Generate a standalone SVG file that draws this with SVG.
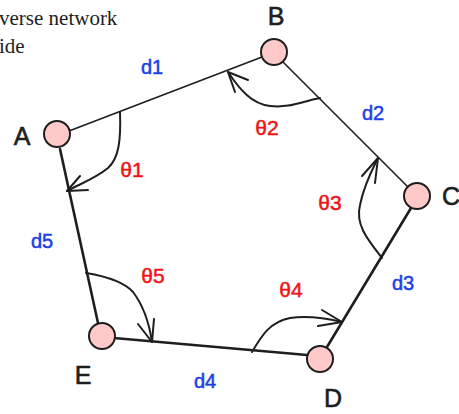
<svg xmlns="http://www.w3.org/2000/svg" width="459" height="414" viewBox="0 0 459 414">
<style>
.node{fill:#ffc9c9;stroke:#1e1e1e;stroke-width:2}
.edge{fill:none;stroke:#1e1e1e;stroke-linecap:round;stroke-linejoin:round}
.thin{stroke-width:1.6}
.thick{stroke-width:2.6}
.arc{fill:none;stroke:#1e1e1e;stroke-width:2;stroke-linecap:round;stroke-linejoin:round}
.lbl{font-family:"Liberation Sans","DejaVu Sans",sans-serif;font-size:25px;fill:#1e1e1e;stroke:#1e1e1e;stroke-width:0.6;text-anchor:middle}
.d{font-family:"Liberation Sans","DejaVu Sans",sans-serif;font-size:20px;fill:#1c3ee8;stroke:#1c3ee8;stroke-width:0.5;text-anchor:middle}
.t{font-family:"Liberation Sans","DejaVu Sans",sans-serif;font-size:21px;fill:#f01414;stroke:#f01414;stroke-width:0.5;text-anchor:middle}
.note{font-family:"Liberation Serif","DejaVu Serif",serif;font-size:21px;fill:#1e1e1e}
</style>
<text class="note" x="-1" y="25">verse network</text>
<text class="note" x="-1" y="53">ide</text>
<g id="connectors">
<path class="edge thin" d="M69 131 L262 57"/>
<path class="edge thin" d="M283 62 L408 187"/>
<path class="edge thick" d="M411 208 L327 347"/>
<path class="edge thick" d="M307 355 L114 338"/>
<path class="edge thick" d="M98 323 L60 149"/>
<path class="arc" d="M120 112 C121 140 119 158 108 168 C96 178 80 184 67 191"/>
<path class="arc" d="M80 176 L67 191 L88 190"/>
<path class="arc" d="M320 98 C300 102 290 108 270 106 C252 104 240 90 228 72"/>
<path class="arc" d="M248 80 L228 72 L235 92"/>
<path class="arc" d="M382 258 C368 240 355 225 360 205 C364 185 372 170 378 158"/>
<path class="arc" d="M362 176 L378 158 L375 183"/>
<path class="arc" d="M252 352 C262 335 270 322 290 318 C305 316 325 318 342 322"/>
<path class="arc" d="M322 310 L342 322 L318 326"/>
<path class="arc" d="M86 273 C110 277 125 283 133 292 C143 305 149 322 152 342"/>
<path class="arc" d="M138 324 L152 342 L154 319"/>
</g>
<g id="node-A"><circle class="node" cx="57" cy="134" r="13"/><text class="lbl" x="22" y="145">A</text></g>
<g id="node-B"><circle class="node" cx="274" cy="52" r="13"/><text class="lbl" x="276" y="25">B</text></g>
<g id="node-C"><circle class="node" cx="417" cy="196" r="13"/><text class="lbl" x="451" y="205">C</text></g>
<g id="node-D"><circle class="node" cx="320" cy="359" r="13"/><text class="lbl" x="333" y="407">D</text></g>
<g id="node-E"><circle class="node" cx="102" cy="336" r="13"/><text class="lbl" x="83" y="384">E</text></g>
<g id="labels">
<text class="d" x="152" y="74">d1</text>
<text class="d" x="373" y="120">d2</text>
<text class="d" x="403" y="290">d3</text>
<text class="d" x="205" y="388">d4</text>
<text class="d" x="42" y="248">d5</text>
<text class="t" x="132" y="177">θ1</text>
<text class="t" x="267" y="135">θ2</text>
<text class="t" x="330" y="210">θ3</text>
<text class="t" x="291" y="297">θ4</text>
<text class="t" x="153" y="283">θ5</text>
</g>
</svg>
